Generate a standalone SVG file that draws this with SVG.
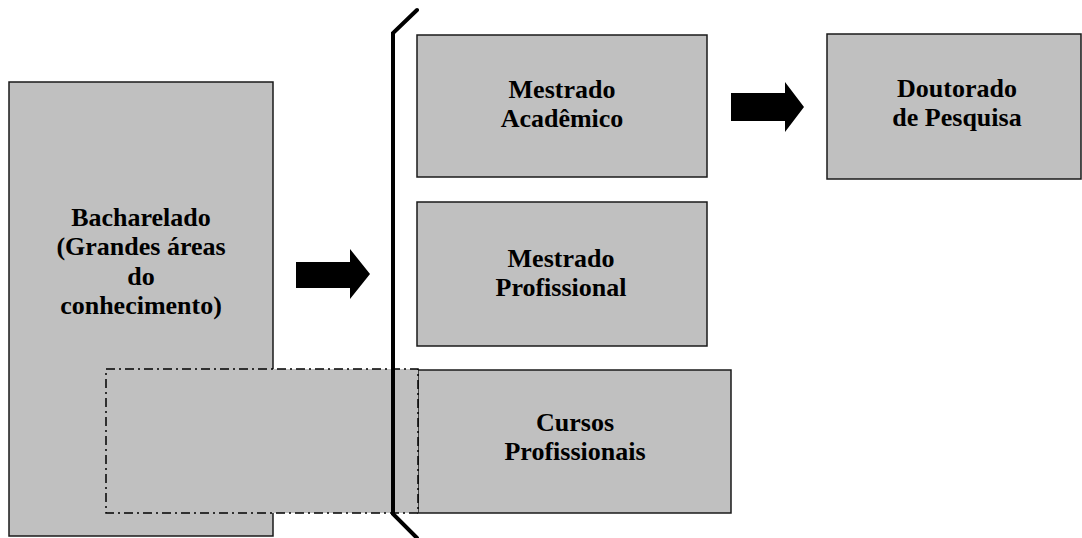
<svg xmlns="http://www.w3.org/2000/svg" width="1082" height="538" viewBox="0 0 1082 538">
  <style>
    .box { fill: #c0c0c0; stroke: #1a1a1a; stroke-width: 1.5; }
    .dashbox { fill: #c0c0c0; stroke: #000; stroke-width: 1.5; stroke-dasharray: 9 4 2 4; }
    .lbl { font-family: "Liberation Serif", "Times New Roman", serif; font-weight: bold; font-size: 26px; fill: #000; text-anchor: middle; }
    .arrow { fill: #000; }
    .brace { fill: none; stroke: #000; stroke-width: 4; stroke-linecap: round; stroke-linejoin: miter; }
  </style>
  <rect width="1082" height="538" fill="#fff"/>

  <g id="bacharelado">
    <rect class="box" x="9" y="82" width="264" height="454"/>
    <text class="lbl" x="141" y="226">Bacharelado</text>
    <text class="lbl" x="141" y="255">(Grandes áreas</text>
    <text class="lbl" x="141" y="285">do</text>
    <text class="lbl" x="141" y="314">conhecimento)</text>
  </g>

  <g id="mestrado-academico">
    <rect class="box" x="417" y="35" width="290" height="142"/>
    <text class="lbl" x="562" y="98">Mestrado</text>
    <text class="lbl" x="562" y="127">Acadêmico</text>
  </g>

  <g id="mestrado-profissional">
    <rect class="box" x="417" y="202" width="290" height="144"/>
    <text class="lbl" x="561" y="267">Mestrado</text>
    <text class="lbl" x="561" y="296">Profissional</text>
  </g>

  <g id="doutorado">
    <rect class="box" x="827" y="34" width="254" height="145"/>
    <text class="lbl" x="957" y="97">Doutorado</text>
    <text class="lbl" x="957" y="126">de Pesquisa</text>
  </g>

  <g id="cursos-profissionais">
    <rect class="box" x="418" y="370" width="313" height="143"/>
    <text class="lbl" x="575" y="431">Cursos</text>
    <text class="lbl" x="575" y="460">Profissionais</text>
  </g>

  <g id="sobreposicao">
    <rect class="dashbox" x="106" y="369" width="312" height="144"/>
  </g>

  <g id="connectors">
    <path class="brace" d="M417 10 L393 33 L393 514 L417 538"/>
    <polygon class="arrow" points="296,262 350,262 350,249 370,274 350,299 350,288 296,288"/>
    <polygon class="arrow" points="731,93 785,93 785,82 804,107 785,132 785,121 731,121"/>
  </g>
</svg>
